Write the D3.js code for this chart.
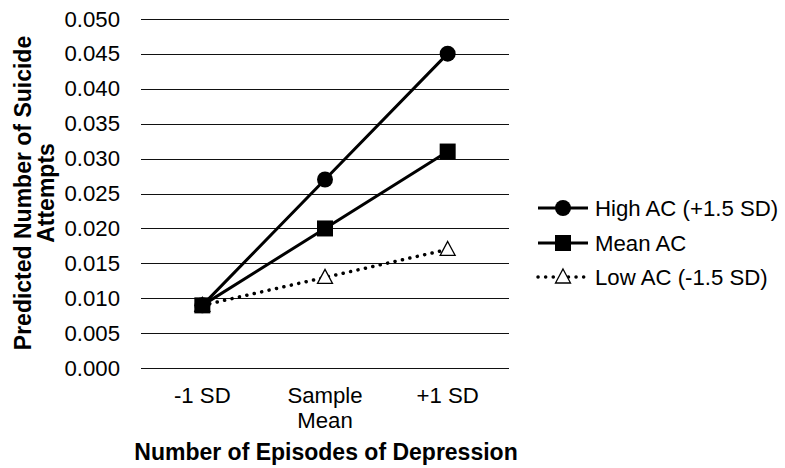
<!DOCTYPE html>
<html>
<head>
<meta charset="utf-8">
<script src="https://d3js.org/d3.v7.min.js"></script>
<style>
  body { margin: 0; background: #fff; }
  svg text { font-family: "Liberation Sans", Arial, sans-serif; fill: #000; }
</style>
</head>
<body>
<script>
// categories on x, with wrapped labels
var categories = ["-1 SD", "Sample Mean", "+1 SD"];
var categoryLines = [["-1 SD"], ["Sample", "Mean"], ["+1 SD"]];
var yTicks = [0, 0.005, 0.010, 0.015, 0.020, 0.025, 0.030, 0.035, 0.040, 0.045, 0.050];

// series values
var highAC = [0.009, 0.027, 0.045];
var meanAC = [0.009, 0.020, 0.031];
var lowAC  = [0.009, 0.013, 0.017];

var seriesNames = ["High AC (+1.5 SD)", "Mean AC", "Low AC (-1.5 SD)"];

var W = 785, H = 468;
var plot = {left: 141, right: 509, top: 18.7, bottom: 368.3};

var svg = d3.select("body").append("svg")
  .attr("width", W).attr("height", H);

var x = d3.scaleBand().domain(categories).range([plot.left, plot.right]);
var y = d3.scaleLinear().domain([0, 0.05]).range([plot.bottom, plot.top]);
var cx = function(c) { return x(c) + x.bandwidth() / 2; };

// gridlines
svg.append("g").selectAll("line").data(yTicks).enter().append("line")
  .attr("x1", plot.left).attr("x2", plot.right)
  .attr("y1", function(d) { return Math.round(y(d)) + 0.5; })
  .attr("y2", function(d) { return Math.round(y(d)) + 0.5; })
  .attr("stroke", "#111").attr("stroke-width", 1.2);

// y tick labels
svg.append("g").selectAll("text").data(yTicks).enter().append("text")
  .attr("x", 120).attr("y", function(d) { return y(d) + 7.8; })
  .attr("text-anchor", "end").style("font-size", "22.2px")
  .text(function(d) { return d3.format(".3f")(d); });

// x tick labels
var xl = svg.append("g").selectAll("text").data(categories).enter().append("text")
  .attr("text-anchor", "middle").style("font-size", "22.2px")
  .attr("x", function(d) { return cx(d); }).attr("y", 403);
xl.each(function(d, i) {
  var t = d3.select(this);
  categoryLines[i].forEach(function(s, j) {
    t.append("tspan").attr("x", cx(d)).attr("dy", j === 0 ? 0 : 25).text(s);
  });
});

// axis titles
svg.append("text").attr("x", (plot.left + plot.right) / 2 + 1).attr("y", 460)
  .attr("text-anchor", "middle").style("font-size", "23px").style("font-weight", "bold")
  .text("Number of Episodes of Depression");

var yt = svg.append("text").attr("transform", "translate(31,193) rotate(-90)")
  .attr("text-anchor", "middle").style("font-size", "23px").style("font-weight", "bold");
yt.append("tspan").attr("x", 0).attr("dy", 0).text("Predicted Number of Suicide");
yt.append("tspan").attr("x", 0).attr("dy", 23).text("Attempts");

var line = d3.line()
  .x(function(d, i) { return cx(categories[i]); })
  .y(function(d) { return y(d); });

var series = [
  {name: seriesNames[0], values: highAC, marker: "circle", dash: null},
  {name: seriesNames[1], values: meanAC, marker: "square", dash: null},
  {name: seriesNames[2], values: lowAC, marker: "triangle", dash: "0.1,7.5"}
];

function drawMarker(g, type, px, py) {
  if (type === "circle") {
    g.append("circle").attr("cx", px).attr("cy", py).attr("r", 8).attr("fill", "#000");
  } else if (type === "square") {
    g.append("rect").attr("x", px - 8).attr("y", py - 8).attr("width", 16).attr("height", 16)
      .attr("fill", "#000");
  } else {
    g.append("path")
      .attr("d", "M" + px + "," + (py - 8) + "L" + (px + 7.5) + "," + (py + 6) + "L" + (px - 7.5) + "," + (py + 6) + "Z")
      .attr("fill", "#fff").attr("stroke", "#000").attr("stroke-width", 1.3);
  }
}

// lines
series.forEach(function(s) {
  svg.append("path").datum(s.values).attr("d", line)
    .attr("fill", "none").attr("stroke", "#000")
    .attr("stroke-width", s.dash ? 3.5 : 3)
    .attr("stroke-linecap", s.dash ? "round" : "butt")
    .attr("stroke-dasharray", s.dash);
});

// markers: low first, then high, mean on top
var order = [2, 0, 1];
var mg = svg.append("g");
order.forEach(function(k) {
  var s = series[k];
  s.values.forEach(function(v, i) { drawMarker(mg, s.marker, cx(categories[i]), y(v)); });
});

// legend
var legRows = [208, 243, 277];
series.forEach(function(s, i) {
  var g = svg.append("g");
  var ly = legRows[i];
  g.append("line").attr("x1", 538).attr("x2", 588).attr("y1", ly).attr("y2", ly)
    .attr("stroke", "#000").attr("stroke-width", s.dash ? 3.5 : 3)
    .attr("stroke-linecap", s.dash ? "round" : "butt")
    .attr("stroke-dasharray", s.dash);
  drawMarker(g, s.marker, 563, ly);
  g.append("text").attr("x", 595).attr("y", ly + 7.8).style("font-size", "22.2px").text(s.name);
});
</script>
</body>
</html>
